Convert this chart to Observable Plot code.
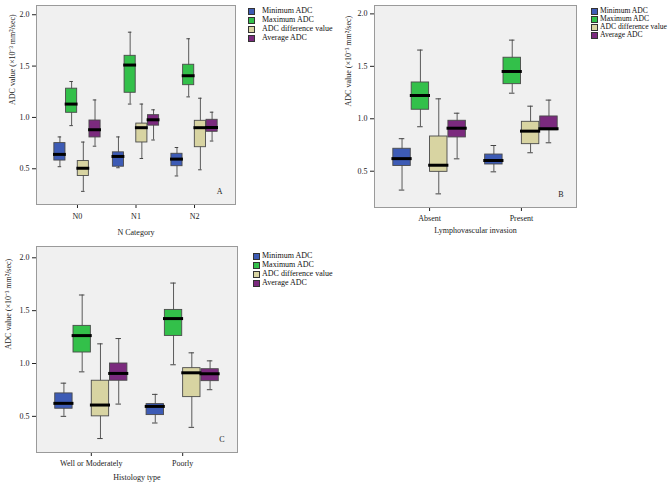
<!DOCTYPE html>
<html><head><meta charset="utf-8">
<script src="https://cdn.jsdelivr.net/npm/d3@7"></script>
<script src="https://cdn.jsdelivr.net/npm/@observablehq/plot@0.6"></script>
<style>
body{margin:0;width:669px;height:486px;position:relative;overflow:hidden;background:#fff;font-family:"Liberation Serif",serif;}
.panel{position:absolute;}
.legend{position:absolute;font-size:8px;color:#111;width:200px;height:40px;}
.legend .item{position:absolute;left:0;white-space:nowrap;height:10px;line-height:10px;}
.legend .sw{position:absolute;left:0;top:2px;width:5px;height:5px;border:0.8px solid #333;}
.legend .tx{position:absolute;top:0;}
</style></head><body>
<script>
// Series (legend)
const seriesNames = ["Minimum ADC", "Maximum ADC", "ADC difference value", "Average ADC"];
const seriesColors = ["#3d5bb5", "#33c04a", "#d8d4a2", "#7b2a7e"];

// Shared y-axis text and ticks
const yAxisLabel = "ADC value (\u00D710\u207B\u00B3 mm\u00B2/sec)";
const yTicks = [0.5, 1.0, 1.5, 2.0];

// Panel A — N Category; each entry: [min, q1, median, q3, max]
const nCategories = ["N0", "N1", "N2"];
const nMinimumADC = [[0.52, 0.58, 0.64, 0.75, 0.81], [0.51, 0.52, 0.62, 0.66, 0.81], [0.43, 0.525, 0.594, 0.646, 0.707]];
const nMaximumADC = [[0.92, 1.045, 1.13, 1.28, 1.35], [1.13, 1.24, 1.51, 1.60, 1.83], [1.20, 1.314, 1.406, 1.513, 1.766]];
const nDifferenceADC = [[0.28, 0.43, 0.505, 0.575, 0.76], [0.60, 0.756, 0.90, 0.94, 1.13], [0.49, 0.71, 0.90, 0.967, 1.187]];
const nAverageADC = [[0.72, 0.805, 0.88, 0.97, 1.17], [0.78, 0.92, 0.977, 1.022, 1.074], [0.77, 0.86, 0.902, 0.977, 1.051]];

// Panel B — Lymphovascular invasion
const lviCategories = ["Absent", "Present"];
const lviMinimumADC = [[0.32, 0.55, 0.62, 0.714, 0.81], [0.494, 0.564, 0.602, 0.659, 0.745]];
const lviMaximumADC = [[0.924, 1.086, 1.222, 1.346, 1.655], [1.244, 1.33, 1.451, 1.582, 1.75]];
const lviDifferenceADC = [[0.284, 0.494, 0.557, 0.831, 1.19], [0.676, 0.758, 0.882, 0.971, 1.12]];
const lviAverageADC = [[0.618, 0.822, 0.91, 0.981, 1.053], [0.771, 0.89, 0.905, 1.022, 1.178]];

// Panel C — Histology type
const histCategories = ["Well or Moderately", "Poorly"];
const histMinimumADC = [[0.50, 0.572, 0.623, 0.717, 0.814], [0.437, 0.512, 0.594, 0.616, 0.708]];
const histMaximumADC = [[0.921, 1.104, 1.264, 1.356, 1.648], [0.988, 1.261, 1.425, 1.507, 1.761]];
const histDifferenceADC = [[0.29, 0.50, 0.607, 0.837, 1.186], [0.396, 0.682, 0.912, 0.956, 1.101]];
const histAverageADC = [[0.616, 0.837, 0.906, 1.00, 1.236], [0.752, 0.833, 0.903, 0.946, 1.025]];

function drawPanel(o) {
  const rows = [];
  o.series.forEach((arr, s) => arr.forEach((v, c) =>
    rows.push({c, s, name: seriesNames[s], min: v[0], q1: v[1], med: v[2], q3: v[3], max: v[4]})));
  const W = 0.19, STEP = 0.2, CAP = 0.03;
  const cx = d => d.c + (d.s - 1.5) * STEP;
  const chart = Plot.plot({
    width: o.width, height: o.height,
    marginLeft: o.mL, marginRight: o.mR, marginTop: o.mT, marginBottom: o.mB,
    style: {fontFamily: "Liberation Serif, serif", fontSize: "8px", background: "transparent", color: "#222"},
    x: {type: "linear", domain: [-o.pad, o.cats.length - 1 + o.pad], ticks: d3.range(o.cats.length),
        tickFormat: i => o.cats[i], tickSize: 4, tickPadding: o.tickPad, label: null},
    y: {domain: o.yDomain, ticks: yTicks, tickFormat: d3.format(".1f"), tickSize: 4, tickPadding: 3, label: null},
    color: {domain: seriesNames, range: seriesColors},
    marks: [
      Plot.frame({fill: "#f0f0f0", stroke: "#9a9a9a"}),
      Plot.ruleX(rows, {x: cx, y1: "min", y2: "max", stroke: "#5a5a5a", strokeWidth: 1}),
      Plot.ruleY(rows, {x1: d => cx(d) - CAP, x2: d => cx(d) + CAP, y: "min", stroke: "#444"}),
      Plot.ruleY(rows, {x1: d => cx(d) - CAP, x2: d => cx(d) + CAP, y: "max", stroke: "#444"}),
      Plot.rect(rows, {x1: d => cx(d) - W / 2, x2: d => cx(d) + W / 2, y1: "q1", y2: "q3",
        fill: "name", stroke: "#4a4a4a", strokeWidth: 0.9}),
      Plot.ruleY(rows, {x1: d => cx(d) - W / 2 - 0.015, x2: d => cx(d) + W / 2 + 0.015, y: "med",
        stroke: "#000", strokeWidth: 3}),
      Plot.text([o.letter], {text: d => d, frameAnchor: "bottom-right", dx: -13, dy: -11, fill: "#222"}),
      Plot.text([o.xLabel], {text: d => d, frameAnchor: "bottom", dy: o.xLabelDy, fill: "#222"}),
      Plot.text([yAxisLabel], {text: d => d, frameAnchor: "left", rotate: -90, dx: o.yLabelDx, fill: "#222"})
    ]
  });
  const wrap = document.createElement("div");
  wrap.className = "panel";
  wrap.style.left = o.left + "px";
  wrap.style.top = o.top + "px";
  wrap.appendChild(chart);
  document.body.appendChild(wrap);

  const lg = document.createElement("div");
  lg.className = "legend";
  lg.style.left = o.legendX + "px";
  lg.style.top = o.legendY + "px";
  lg.style.fontSize = o.legendFont + "px";
  seriesNames.forEach((n, i) => {
    const it = document.createElement("div");
    it.className = "item";
    it.style.top = (i * o.legendStep) + "px";
    const sw = document.createElement("span");
    sw.className = "sw";
    sw.style.background = seriesColors[i];
    const tx = document.createElement("span");
    tx.className = "tx";
    tx.style.left = o.legendTextDx + "px";
    tx.textContent = n;
    it.appendChild(sw); it.appendChild(tx);
    lg.appendChild(it);
  });
  document.body.appendChild(lg);
}

drawPanel({
  cats: nCategories, series: [nMinimumADC, nMaximumADC, nDifferenceADC, nAverageADC],
  left: 0, top: 0, width: 240, height: 245, mL: 36, mR: 5, mT: 5, mB: 41,
  yDomain: [0.152, 2.09], pad: 0.7, tickPad: 5,
  xLabel: "N Category", xLabelDy: 30, yLabelDx: -24, letter: "A",
  legendX: 248, legendY: 5.7, legendStep: 9.2, legendTextDx: 14, legendFont: 8
});
drawPanel({
  cats: lviCategories, series: [lviMinimumADC, lviMaximumADC, lviDifferenceADC, lviAverageADC],
  left: 330, top: 0, width: 250, height: 245, mL: 44, mR: 4, mT: 5, mB: 38,
  yDomain: [0.154, 2.08], pad: 0.6, tickPad: 4,
  xLabel: "Lymphovascular invasion", xLabelDy: 25, yLabelDx: -26, letter: "B",
  legendX: 591, legendY: 5.7, legendStep: 8.1, legendTextDx: 9, legendFont: 7.6
});
drawPanel({
  cats: histCategories, series: [histMinimumADC, histMaximumADC, histDifferenceADC, histAverageADC],
  left: 0, top: 240, width: 245, height: 246, mL: 36, mR: 8, mT: 6, mB: 34,
  yDomain: [0.158, 2.107], pad: 0.6, tickPad: 4,
  xLabel: "Histology type", xLabelDy: 27, yLabelDx: -28, letter: "C",
  legendX: 253, legendY: 250.7, legendStep: 9.2, legendTextDx: 9, legendFont: 8
});
</script></body></html>
